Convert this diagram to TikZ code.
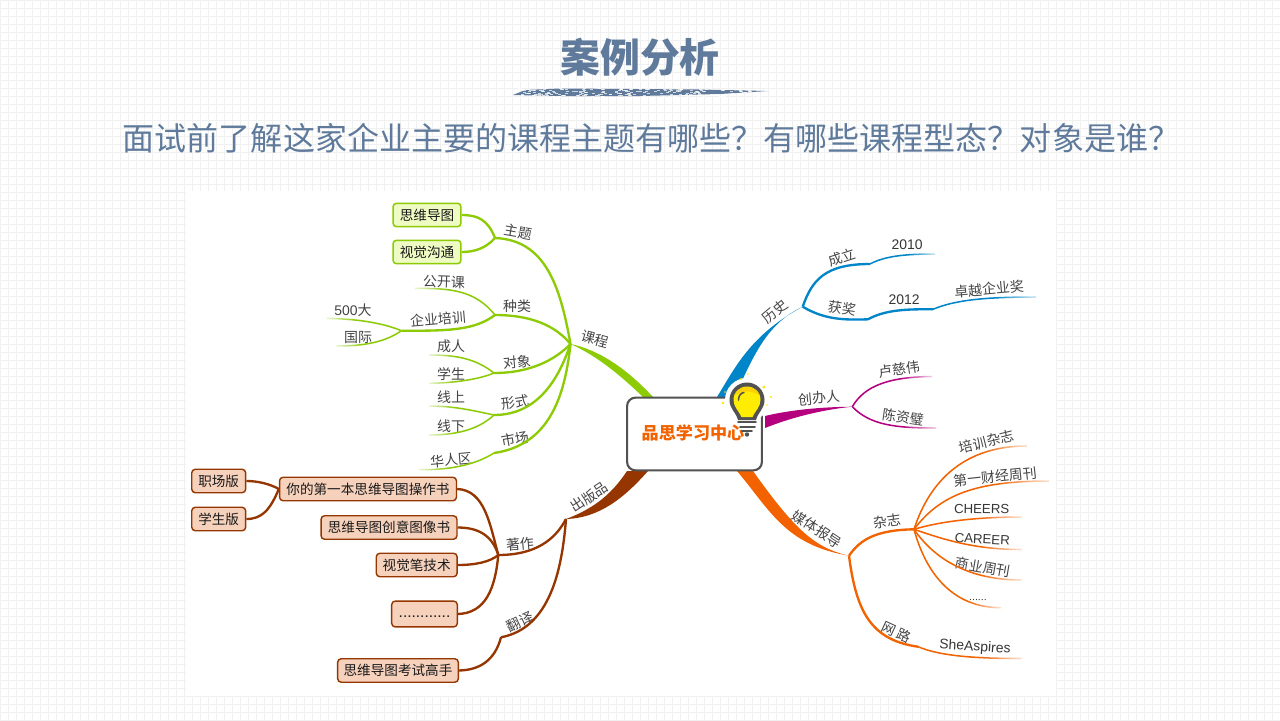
\documentclass[tikz,border=0pt]{standalone}
\usepackage{fontspec}
\setmainfont{Noto Sans CJK SC}
\newfontfamily\latfont{Liberation Sans}
\usetikzlibrary{arrows, arrows.meta}
\usetikzlibrary{calc}
\usetikzlibrary{fadings}

\definecolor{titlecol}{HTML}{5F7A9B}
\definecolor{gridcol}{HTML}{F0F0F0}
\definecolor{labcol}{HTML}{444444}
\definecolor{greencol}{HTML}{8CCB05}
\definecolor{browncol}{HTML}{953600}
\definecolor{bluecol}{HTML}{0085C8}
\definecolor{purplecol}{HTML}{B4007E}
\definecolor{orangecol}{HTML}{F26300}
\definecolor{greenfill}{HTML}{EEFBC2}
\definecolor{brownfill}{HTML}{F6D1BC}

\pgfdeclarehorizontalshading{leafshade}{100bp}{color(0bp)=(pgftransparent!0); color(25bp)=(pgftransparent!0); color(55bp)=(pgftransparent!0); color(75bp)=(pgftransparent!85); color(100bp)=(pgftransparent!85)}
\pgfdeclarefading{leaffade}{\pgfuseshading{leafshade}}

\tikzset{
  gridline/.style={draw=gridcol, line width=0.85pt},
  lab/.style={text=labcol, inner sep=0pt, font=\fontsize{11.9}{14}\selectfont},
  latlab/.style={text=labcol!80!black, inner sep=0pt, font=\latfont\fontsize{11.9}{14}\selectfont},
  caplab/.style={text=labcol!80!black, inner sep=0pt, font=\latfont\fontsize{11.3}{14}\selectfont},
  greenbox/.style={draw=greencol, fill=greenfill, line width=1.3pt, rounded corners=3pt, minimum height=20pt, inner sep=0pt, text=black!90, font=\fontsize{11.6}{14}\selectfont},
  brownbox/.style={draw=browncol, fill=brownfill, line width=1.2pt, rounded corners=3pt, minimum height=20pt, inner sep=0pt, text=black!90, font=\fontsize{11.6}{14}\selectfont},
  branch/.style={draw=#1, line width=2pt},
  leafR/.style={draw=#1, line width=1.3pt, path fading=leaffade},
  leafL/.style={draw=#1, line width=1.3pt, path fading=leaffade, fading angle=180},
}

\begin{document}
\begin{tikzpicture}[x=0.03cm, y=-0.03cm]
  \useasboundingbox (0,0) rectangle (1280,720);
  \foreach \gx in {0,...,160} \draw[gridline] ({0.7+8*\gx},0) -- ({0.7+8*\gx},720);
  \foreach \gy in {0,...,90} \draw[gridline] (0,{0.7+8*\gy}) -- (1280,{0.7+8*\gy});
  \fill[white] (186,191) rectangle (1056,696);

  % heading
  \node[text=titlecol, inner sep=0pt, font=\fontsize{34}{40}\bfseries\selectfont] (title) at (640,57) {案例分析};
  \node[text=titlecol, inner sep=0pt, font=\fontsize{27.35}{32}\selectfont] (question) at (651.5,138) {面试前了解这家企业主要的课程主题有哪些^^^^ff1f有哪些课程型态^^^^ff1f对象是谁^^^^ff1f};
  \fill[titlecol] (513,95) -- (525,90) -- (560,88.5) -- (700,89.5) -- (768,91) -- (720,94) -- (640,96) -- (560,96) -- cycle;
  \pgfmathsetseed{7}
  \foreach \k in {1,...,220} {
    \pgfmathsetmacro\bx{513+255*rnd}
    \pgfmathsetmacro\by{88+8*rnd}
    \fill[white, opacity=0.7] (\bx,\by) rectangle ++(3,0.6);
  }

  % junctions
  \coordinate (jCourse) at (570.5,344);
  \coordinate (jTopic) at (495,238);
  \coordinate (jKind) at (495,315);
  \coordinate (jTrain) at (401.5,330.7);
  \coordinate (jAudience) at (494,373);
  \coordinate (jForm) at (494,415);
  \coordinate (jMarket) at (494,453);
  \coordinate (jPub) at (566,519);
  \coordinate (jWork) at (498.3,555);
  \coordinate (jTrans) at (501,637.3);
  \coordinate (jHist) at (802.7,306.7);
  \coordinate (jFound) at (870,264);
  \coordinate (jAward) at (868,319.3);
  \coordinate (jYear) at (933,309.3);
  \coordinate (jPeople) at (852.3,406.7);
  \coordinate (jMedia) at (849,555.7);
  \coordinate (jMag) at (914,529.3);
  \coordinate (jWeb) at (918,646.7);

  % free ends
  \coordinate (eOpen) at (415,288.5);
  \coordinate (eTop) at (326.5,318.3);
  \coordinate (eIntl) at (336.5,346);
  \coordinate (eAdult) at (429,355);
  \coordinate (eStudent) at (429,383.3);
  \coordinate (eOnline) at (429,406);
  \coordinate (eOffline) at (429,435);
  \coordinate (eChinese) at (419,469.7);
  \coordinate (eTen) at (935,254);
  \coordinate (eExcel) at (1036,297);
  \coordinate (eLu) at (932,376.5);
  \coordinate (eChen) at (936,428);
  \coordinate (eMagA) at (1027,446);
  \coordinate (eMagB) at (1049,481);
  \coordinate (eMagC) at (1021.5,517);
  \coordinate (eMagD) at (1021.5,549.5);
  \coordinate (eMagE) at (1021.5,580);
  \coordinate (eMagF) at (1001,607.7);
  \coordinate (eShe) at (1021.5,658.5);

  % thick stems
  \fill[greencol] (jCourse) .. controls (600,350) and (628,370) .. (653,397) -- (643,397) .. controls (617,372) and (595,355) .. (jCourse);
  \fill[browncol] (jPub) .. controls (590,510) and (610,497) .. (627,471) -- (648,471) .. controls (625,497) and (600,518) .. (jPub);
  \fill[bluecol] (jHist) .. controls (770,322) and (755,350) .. (735,397) -- (717,397) .. controls (735,368) and (750,335) .. (jHist);
  \fill[purplecol] (jPeople) .. controls (820,407) and (790,410) .. (765,416) -- (765,428) .. controls (790,418) and (820,410) .. (jPeople);
  \fill[orangecol] (jMedia) .. controls (815,548) and (795,530) .. (753,471) -- (737,471) .. controls (770,510) and (785,545) .. (jMedia);

  % centre
  \node[draw=black!68, fill=white, line width=1.8pt, rounded corners=7pt, minimum width=115pt, minimum height=62pt, inner sep=0pt] (centre) at (694.5,434) {};
  \node[text=orangecol, inner sep=0pt, font=\fontsize{14.6}{17}\bfseries\selectfont] (centretext) at (693,433) {品思学习中心};
  \fill[white] (747,400) circle (22);
  \fill[black!68] (729.5,400) arc (180:360:17.5) .. controls (764.5,409) and (758,412) .. (756,420) -- (738,420) .. controls (736,412) and (729.5,409) .. (729.5,400) -- cycle;
  \fill[yellow!95!orange] (733.5,400) arc (180:360:13.5) .. controls (760.5,407) and (755,411) .. (752.5,417) -- (741.5,417) .. controls (739,411) and (733.5,407) .. (733.5,400) -- cycle;
  \fill[yellow!70!orange] (734,396) .. controls (737,384) and (757,384) .. (760,396) .. controls (752,390) and (742,390) .. (734,396) -- cycle;
  \draw[black!68, line width=1.3pt, line cap=round] (738.5,400) .. controls (738.5,396) and (740.5,393) .. (744,392.5);
  \draw[black!68, line width=1.5pt, line cap=round] (738,421.7) -- (756,421.7);
  \draw[black!68, line width=1.5pt, line cap=round] (740,426.7) -- (755,426.7);
  \draw[black!68, line width=1.5pt, line cap=round] (742,431.2) -- (752,431.2);
  \fill[black!68] (747,434.5) circle (2.2);
  \fill[yellow!90!orange] (723,403) circle (1.4) (725,392) circle (0.9) (764,387) circle (1.7) (771,397) circle (1.1) (767,405) circle (0.9) (748,374) circle (0.8) (741,379) circle (1.1);

  % course
  \node[lab, rotate=-15] (course) at (595,339) {课程};
  \node[lab, rotate=-10] (topic) at (518,232) {主题};
  \node[greenbox, minimum width=58pt] (mindmap) at (427,215) {思维导图};
  \node[greenbox, minimum width=58pt] (visual) at (427,252) {视觉沟通};
  \node[lab] (kind) at (517,306) {种类};
  \node[lab, rotate=-2] (open) at (444,282) {公开课};
  \node[lab, rotate=5] (train) at (438,319) {企业培训};
  \node[lab] (top) at (353,310) {{\latfont 500}大};
  \node[lab] (intl) at (358,337) {国际};
  \node[lab, rotate=5] (audience) at (517,362) {对象};
  \node[lab] (adult) at (451,346) {成人};
  \node[lab] (student) at (451,374) {学生};
  \node[lab, rotate=8] (form) at (515,402) {形式};
  \node[lab] (online) at (451,397) {线上};
  \node[lab] (offline) at (451,426) {线下};
  \node[lab, rotate=10] (market) at (515,439) {市场};
  \node[lab, rotate=5] (chinese) at (451,460) {华人区};

  \draw[branch=greencol] (jCourse) .. controls (560,285) and (545,240) .. (jTopic);
  \draw[branch=greencol] (jTopic) .. controls (488,220) and (478,215) .. (mindmap.east);
  \draw[branch=greencol] (jTopic) .. controls (486,248) and (475,252) .. (visual.east);
  \draw[branch=greencol] (jCourse) .. controls (555,325) and (530,315) .. (jKind);
  \draw[leafL=greencol] (jKind) .. controls (475,290) and (450,288) .. (eOpen);
  \draw[branch=greencol] (jKind) .. controls (475,330) and (450,331) .. (jTrain);
  \draw[leafL=greencol] (jTrain) .. controls (380,322) and (355,319) .. (eTop);
  \draw[leafL=greencol] (jTrain) .. controls (385,342) and (365,346) .. (eIntl);
  \draw[branch=greencol] (jCourse) .. controls (555,360) and (530,373) .. (jAudience);
  \draw[leafL=greencol] (jAudience) .. controls (475,358) and (455,355) .. (eAdult);
  \draw[leafL=greencol] (jAudience) .. controls (480,379) and (455,383) .. (eStudent);
  \draw[branch=greencol] (jCourse) .. controls (560,375) and (540,415) .. (jForm);
  \draw[leafL=greencol] (jForm) .. controls (475,411) and (455,406) .. (eOnline);
  \draw[leafL=greencol] (jForm) .. controls (480,428) and (460,435) .. (eOffline);
  \draw[branch=greencol] (jCourse) .. controls (565,395) and (550,445) .. (jMarket);
  \draw[leafL=greencol] (jMarket) .. controls (475,465) and (450,470) .. (eChinese);

  % publications
  \node[lab, rotate=33] (pub) at (589,497) {出版品};
  \node[lab, rotate=5] (work) at (520,544) {著作};
  \node[lab, rotate=25] (trans) at (520,622) {翻译};
  \node[brownbox, minimum width=151pt] (bookA) at (368,489) {你的第一本思维导图操作书};
  \node[brownbox, minimum width=116pt] (bookB) at (389,527.5) {思维导图创意图像书};
  \node[brownbox, minimum width=69pt] (bookC) at (416.7,565) {视觉笔技术};
  \node[brownbox, minimum width=56pt, minimum height=22pt, font=\latfont\fontsize{13.2}{14}\selectfont] (bookD) at (424.5,614) {\vphantom{Ag}............};
  \node[brownbox, minimum width=46pt] (job) at (218.7,481) {职场版};
  \node[brownbox, minimum width=46pt] (school) at (218.7,519) {学生版};
  \node[brownbox, minimum width=103pt] (exam) at (398,670.5) {思维导图考试高手};

  \draw[branch=browncol] (jPub) .. controls (555,540) and (535,555) .. (jWork);
  \draw[branch=browncol] (jPub) .. controls (562,570) and (550,628) .. (jTrans);
  \draw[branch=browncol] (jWork) .. controls (490,525) and (485,490) .. (bookA.east);
  \draw[branch=browncol] (jWork) .. controls (492,535) and (478,527.5) .. (bookB.east);
  \draw[branch=browncol] (jWork) .. controls (490,562) and (475,565) .. (bookC.east);
  \draw[branch=browncol] (jWork) .. controls (495,590) and (485,613) .. (bookD.east);
  \draw[branch=browncol] (bookA.west) .. controls (270,484) and (258,481) .. (job.east);
  \draw[branch=browncol] (bookA.west) .. controls (270,510) and (262,519) .. (school.east);
  \draw[branch=browncol] (jTrans) .. controls (495,660) and (480,670) .. (exam.east);

  % history
  \node[lab, rotate=40] (hist) at (775,311) {历史};
  \node[lab, rotate=18] (found) at (842,257) {成立};
  \node[latlab] (ten) at (907,245) {2010};
  \node[lab, rotate=-8] (award) at (842,308) {获奖};
  \node[latlab] (twelve) at (904,300) {2012};
  \node[lab, rotate=5] (excel) at (989,289) {卓越企业奖};

  \draw[branch=bluecol] (jHist) .. controls (812,280) and (825,264) .. (jFound);
  \draw[leafR=bluecol] (jFound) .. controls (885,256) and (905,254) .. (eTen);
  \draw[branch=bluecol] (jHist) .. controls (825,320) and (845,320) .. (jAward);
  \draw[branch=bluecol] (jAward) .. controls (885,310) and (905,309) .. (jYear);
  \draw[leafR=bluecol] (jYear) .. controls (955,300) and (985,297) .. (eExcel);

  % founders
  \node[lab, rotate=5] (people) at (819,398) {创办人};
  \node[lab, rotate=8] (lu) at (899,369) {卢慈伟};
  \node[lab, rotate=-8] (chen) at (903,417) {陈资璧};

  \draw[leafR=purplecol] (jPeople) .. controls (865,385) and (890,377) .. (eLu);
  \draw[leafR=purplecol] (jPeople) .. controls (870,425) and (895,428) .. (eChen);

  % media
  \node[lab, rotate=-33] (media) at (817,529) {媒体报导};
  \node[lab, rotate=8] (mag) at (887,521) {杂志};
  \node[lab, rotate=14] (magA) at (986.7,441.7) {培训杂志};
  \node[lab, rotate=6] (magB) at (995,476.7) {第一财经周刊};
  \node[caplab, rotate=-1] (magC) at (981.7,509) {CHEERS};
  \node[caplab, rotate=-3] (magD) at (982.3,539.3) {CAREER};
  \node[lab, rotate=-10] (magE) at (983,567.3) {商业周刊};
  \node[latlab, rotate=-3, font=\latfont\fontsize{9}{10}\selectfont] (magF) at (978,600) {......};
  \node[lab, rotate=-25] (web) at (896.7,632.3) {网\,路};
  \node[latlab, rotate=-4] (she) at (975,647.3) {SheAspires};

  \draw[branch=orangecol] (jMedia) .. controls (860,540) and (875,530) .. (jMag);
  \draw[branch=orangecol] (jMedia) .. controls (856,610) and (870,640) .. (jWeb);
  \draw[leafR=orangecol] (jMag) .. controls (930,480) and (965,446) .. (eMagA);
  \draw[leafR=orangecol] (jMag) .. controls (940,495) and (975,481) .. (eMagB);
  \draw[leafR=orangecol] (jMag) .. controls (945,520) and (985,517) .. (eMagC);
  \draw[leafR=orangecol] (jMag) .. controls (945,540) and (975,549.5) .. (eMagD);
  \draw[leafR=orangecol] (jMag) .. controls (935,560) and (970,580) .. (eMagE);
  \draw[leafR=orangecol] (jMag) .. controls (925,570) and (950,607.7) .. (eMagF);
  \draw[leafR=orangecol] (jWeb) .. controls (940,656) and (975,658.5) .. (eShe);
\end{tikzpicture}
\end{document}
